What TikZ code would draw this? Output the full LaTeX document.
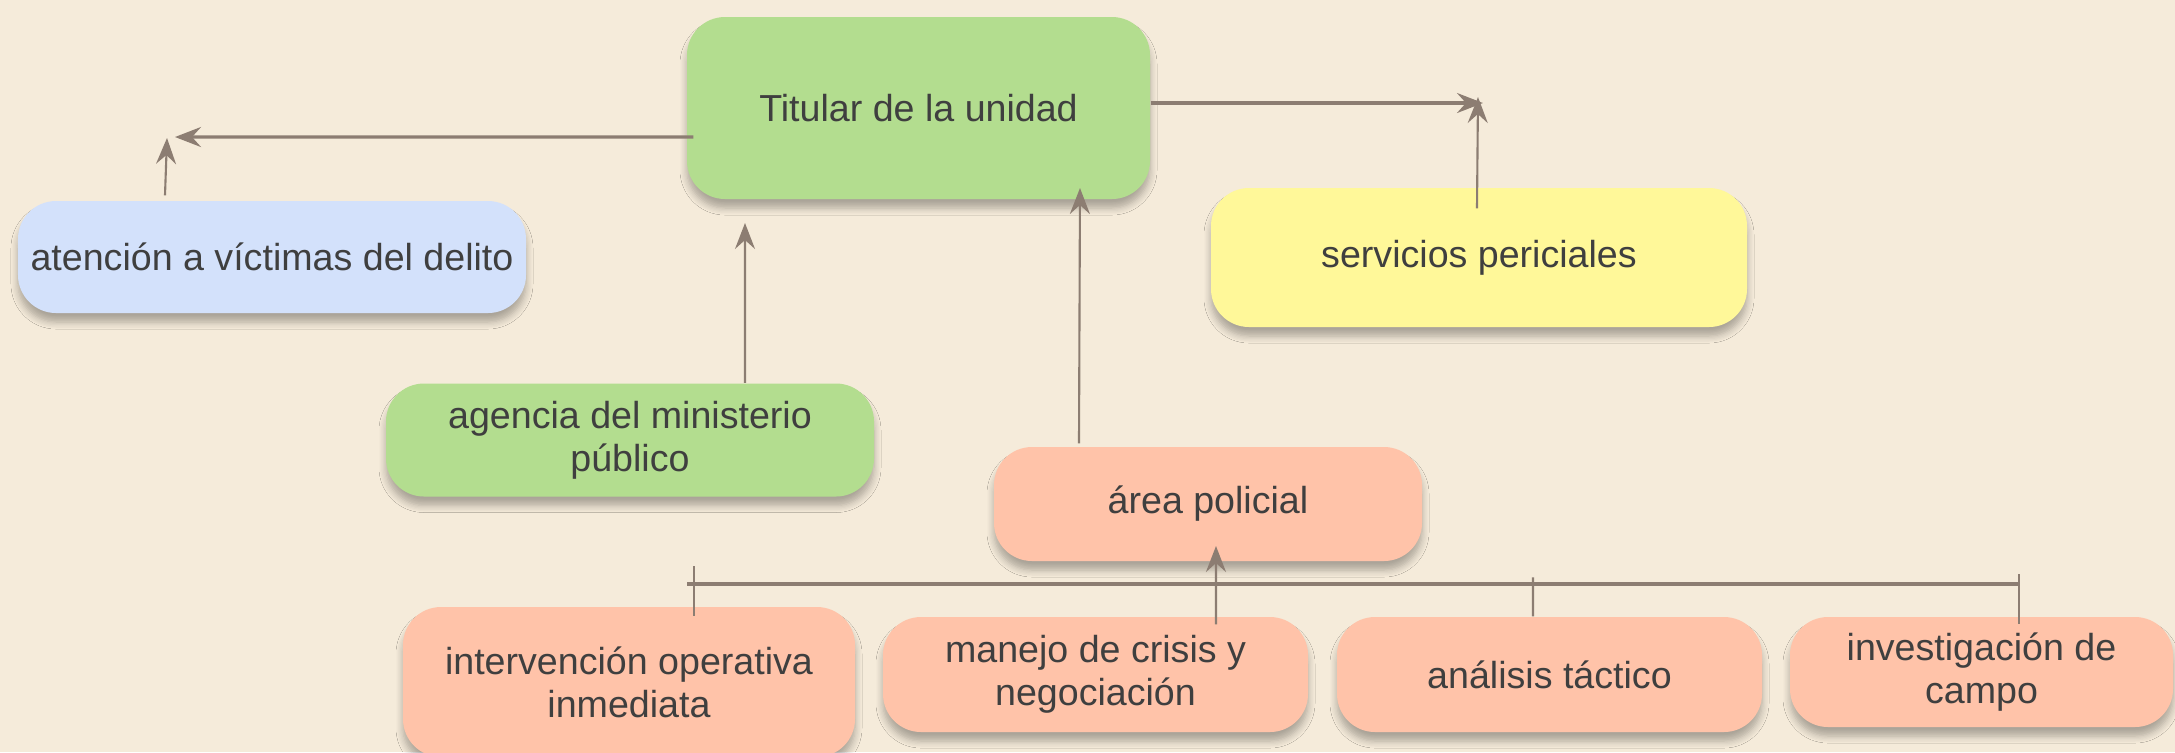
\documentclass[tikz,border=0pt]{standalone}
\usepackage{fontspec}
\setmainfont{Liberation Sans}
\usetikzlibrary{arrows.meta,shadows.blur}
\definecolor{paper}{HTML}{F5EBDA}
\definecolor{ink}{HTML}{3F3F3F}
\definecolor{wire}{HTML}{8C7D72}
\definecolor{greenbox}{HTML}{B3DD8F}
\definecolor{bluebox}{HTML}{D3E1FB}
\definecolor{yellowbox}{HTML}{FFF899}
\definecolor{salmonbox}{HTML}{FFC3A9}
\begin{document}
\begin{tikzpicture}[>={Stealth[length=2.6mm,width=2mm,inset=0.9mm]},
                    unit/.style={rectangle,rounded corners=0.38cm,inner sep=0pt,text=ink,align=center,
                                 font=\fontsize{10.7}{12.2}\selectfont,
                                 blur shadow={shadow xshift=0pt,shadow yshift=-0.9mm,shadow blur radius=0.7mm,
                                              shadow blur steps=6,shadow opacity=30,shadow blur extra rounding}},
                    link/.style={draw=wire,line width=0.6pt},
                    main link/.style={draw=wire,line width=0.9pt}]

          \useasboundingbox (0,0) rectangle (21.75,-7.52);
          \fill[paper] (0,0) rectangle (21.75,-7.52);

          \node[unit,fill=greenbox,minimum width=4.63cm,minimum height=1.82cm] (titular) at (9.185,-1.08) {Titular de la unidad};
          \node[unit,fill=bluebox,minimum width=5.08cm,minimum height=1.12cm] (atencion) at (2.72,-2.57) {atención a víctimas del delito};
          \node[unit,fill=yellowbox,minimum width=5.36cm,minimum height=1.39cm] (servicios) at (14.79,-2.575) {servicios periciales};
          \node[unit,fill=greenbox,minimum width=4.88cm,minimum height=1.13cm] (agencia) at (6.30,-4.40) {agencia del ministerio\\público};
          \node[unit,fill=salmonbox,minimum width=4.28cm,minimum height=1.14cm] (area) at (12.08,-5.04) {área policial};

          \node[unit,fill=salmonbox,minimum width=4.52cm,minimum height=1.50cm] (intervencion) at (6.29,-6.82) {intervención operativa\\inmediata};
          \node[unit,fill=salmonbox,minimum width=4.25cm,minimum height=1.15cm] (manejo) at (10.955,-6.745) {manejo de crisis y\\negociación};
          \node[unit,fill=salmonbox,minimum width=4.25cm,minimum height=1.15cm] (analisis) at (15.495,-6.745) {análisis táctico};
          \node[unit,fill=salmonbox,minimum width=3.83cm,minimum height=1.10cm] (investigacion) at (19.815,-6.72) {investigación de\\campo};

          \coordinate (tipleft) at (1.75,-1.37);
          \coordinate (tipatencion) at (1.67,-1.38);
          \coordinate (tipagencia) at (7.45,-2.23);
          \coordinate (tiparea) at (10.80,-1.88);
          \coordinate (tipright) at (14.83,-1.03);
          \coordinate (tipservicios) at (14.78,-0.97);
          \coordinate (tipmanejo) at (12.16,-5.46);
          \coordinate (busleft) at (6.87,-5.84);
          \coordinate (busright) at (20.19,-5.84);

          \path
          ([shift={(0.07,-0.29)}]titular.west) edge [main link,->] (tipleft)
          ([yshift=0.05cm]titular.east) edge [main link,->] (tipright)
          ([shift={(-1.07,0.05)}]atencion.north) edge [link,->] (tipatencion)
          ([xshift=1.15cm]agencia.north) edge [link,->] (tipagencia)
          ([shift={(-1.29,0.03)}]area.north) edge [link,->] (tiparea)
          ([shift={(-0.02,-0.21)}]servicios.north) edge [link,->] (tipservicios)
          ([shift={(1.205,-0.08)}]manejo.north) edge [link,->] (tipmanejo)

          (busleft) edge [main link] (busright)
          ([shift={(0.65,0.40)}]intervencion.north) edge [link] ([shift={(0.65,-0.10)}]intervencion.north)
          ([shift={(-0.165,0.39)}]analisis.north) edge [link] (analisis.north -| 15.33,0)
          ([shift={(0.375,0.42)}]investigacion.north) edge [link] ([shift={(0.375,-0.08)}]investigacion.north);

        \end{tikzpicture}
\end{document}
